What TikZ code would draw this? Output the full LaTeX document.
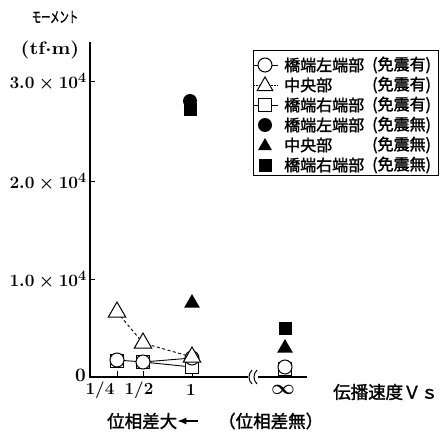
\documentclass[tikz,border=0pt]{standalone}
\usepackage{fontspec}
\newfontfamily\jp[AutoFakeBold=1.6]{Noto Sans CJK JP}
\usetikzlibrary{shapes.geometric,arrows.meta}
\begin{document}
\begin{tikzpicture}[x=1pt,y=-1pt,
  axisline/.style={line width=1.3pt},
  mkoc/.style={circle,draw,fill=white,line width=1pt,minimum size=14pt,inner sep=0pt},
  mkos/.style={rectangle,draw,fill=white,line width=1pt,minimum size=13pt,inner sep=0pt},
  mkot/.style={regular polygon,regular polygon sides=3,draw,fill=white,line width=1pt,minimum size=20pt,inner sep=0pt},
  mkfc/.style={circle,fill=black,minimum size=14pt,inner sep=0pt},
  mkfs/.style={rectangle,fill=black,minimum size=13pt,inner sep=0pt},
  mkft/.style={regular polygon,regular polygon sides=3,fill=black,minimum size=18pt,inner sep=0pt},
  ticklab/.style={anchor=east,inner sep=0pt,font=\fontsize{19}{19}\selectfont\boldmath},
  xlab/.style={inner sep=0pt,font=\fontsize{17}{17}\selectfont\bfseries},
  jptext/.style={inner sep=0pt,anchor=west,font=\jp\bfseries\fontsize{16}{16}\selectfont},
  jpbig/.style={inner sep=0pt,anchor=west,font=\jp\bfseries\fontsize{17.5}{17.5}\selectfont},
  dataline/.style={line width=0.9pt},
  dashline/.style={line width=0.9pt,dash pattern=on 3pt off 2.5pt},
]
\useasboundingbox (0,0) rectangle (441,439);

% axes
\coordinate (ytop) at (90,42);
\coordinate (orig) at (90,377);
\coordinate (brkL) at (248,377);
\coordinate (brkR) at (258,377);
\coordinate (xend) at (307,377);
\draw[axisline] (ytop) -- (orig) -- (brkL);
\draw[axisline] (brkR) -- (xend);
% break mark
\draw[line width=1pt] (252,370) .. controls (248,374) and (248,380) .. (252,384);
\draw[line width=1pt] (257,370) .. controls (253,374) and (253,380) .. (257,384);

% y ticks
\foreach \yy/\nm in {81/a,181/b,279/c}{
  \coordinate (yt\nm) at (90,\yy);
  \coordinate (yu\nm) at (95,\yy);
  \draw[line width=1pt] (yt\nm) -- (yu\nm);
}
% x ticks
\foreach \xx/\nm in {117/a,143/b,192/c,285/d}{
  \coordinate (xt\nm) at (\xx,377);
  \coordinate (xu\nm) at (\xx,371);
  \draw[line width=1pt] (xt\nm) -- (xu\nm);
}

% axis labels
\node[inner sep=0pt,font=\jp\bfseries\fontsize{15}{15}\selectfont] (ylabA) at (55,17) {\scalebox{0.62}[1]{モーメント}};
\node[inner sep=0pt,font=\fontsize{18}{18}\selectfont\bfseries\boldmath] (ylabB) at (50,50) {\scalebox{1.12}[1]{(tf$\cdot$m)}};
\node[ticklab] (lab3) at (87,82) {$3.0\times10^4$};
\node[ticklab] (lab2) at (87,182) {$2.0\times10^4$};
\node[ticklab] (lab1) at (87,280) {$1.0\times10^4$};
\node[ticklab,font=\fontsize{19}{19}\selectfont\bfseries] (lab0) at (86,375) {0};
\node[xlab] (xl1) at (100,390) {1/4};
\node[xlab] (xl2) at (139,390) {1/2};
\node[xlab] (xl3) at (191,390) {1};
\node[xlab,font=\fontsize{22}{22}\selectfont\boldmath] (xl4) at (283,390) {$\infty$};
\node[jpbig] (xname) at (333,392) {伝播速度Ｖｓ};
\node[jpbig] (phA) at (107,421) {位相差大};
\node[jpbig] (phB) at (218,421) {（位相差無）};
\coordinate (arS) at (198,421);
\draw[line width=1.2pt,-{Latex[length=9pt,width=7pt]}] (arS) -- (phA.east);

% data lines (drawn first)
\coordinate (t1) at (117,312);
\coordinate (t2) at (143,343);
\coordinate (t3) at (192,357);
\coordinate (c1) at (117,360);
\coordinate (c2) at (143,362);
\coordinate (c3) at (192,358);
\coordinate (s1) at (117,361);
\coordinate (s2) at (143,362);
\coordinate (s3) at (192,367);
\draw[dashline] (t1) -- (t2) -- (t3);
\draw[dataline] (c1) -- (c2) -- (c3);
\draw[dataline] (s2) -- (s3);

% markers
\node[mkos] (S1) at (s1) {};
\node[mkos] (S2) at (s2) {};
\node[mkos] (S3) at (s3) {};
\node[mkos] (S4) at (285,369) {};
\node[mkoc] (C1) at (c1) {};
\node[mkoc] (C2) at (c2) {};
\node[mkoc] (C3) at (c3) {};
\node[mkoc] (C4) at (285,367) {};
\node[mkot] (T1) at (t1) {};
\node[mkot] (T2) at (t2) {};
\node[mkot] (T3) at (t3) {};
\node[mkfs] (FS3) at (190,109) {};
\node[mkfc] (FC3) at (190,101) {};
\node[mkft] (FT3) at (192,303) {};
\node[mkfs] (FS4) at (285,328) {};
\node[mkft] (FT4) at (285,348) {};

% legend
\node[draw,line width=1.1pt,minimum width=185pt,minimum height=125pt,anchor=north west,inner sep=0pt] (legend) at (253,50) {};
\foreach \yy/\nm in {65/a,85/b,105/c}{
  \coordinate (lgL\nm) at (253,\yy);
  \coordinate (lgR\nm) at (278,\yy);
}
\draw[dataline] (lgLa) -- (lgRa);
\draw[line width=0.9pt,dash pattern=on 1.5pt off 1.5pt] (lgLb) -- (lgRb);
\draw[dataline] (lgLc) -- (lgRc);
\node[mkoc] (LC) at (265,65) {};
\node[mkot,minimum size=18pt] (LT) at (265,86) {};
\node[mkos] (LS) at (265,105) {};
\node[mkfc] (LFC) at (265,125) {};
\node[mkft,minimum size=16pt] (LFT) at (265,146) {};
\node[mkfs] (LFS) at (265,165) {};
\node[jptext] (g1) at (284,65) {橋端左端部};
\node[jptext] (g2) at (284,85) {中央部};
\node[jptext] (g3) at (284,105) {橋端右端部};
\node[jptext] (g4) at (284,125) {橋端左端部};
\node[jptext] (g5) at (284,145) {中央部};
\node[jptext] (g6) at (284,165) {橋端右端部};
\node[jptext] (h1) at (372,65) {(免震有)};
\node[jptext] (h2) at (372,85) {(免震有)};
\node[jptext] (h3) at (372,105) {(免震有)};
\node[jptext] (h4) at (372,125) {(免震無)};
\node[jptext] (h5) at (372,145) {(免震無)};
\node[jptext] (h6) at (372,165) {(免震無)};
\end{tikzpicture}
\end{document}
